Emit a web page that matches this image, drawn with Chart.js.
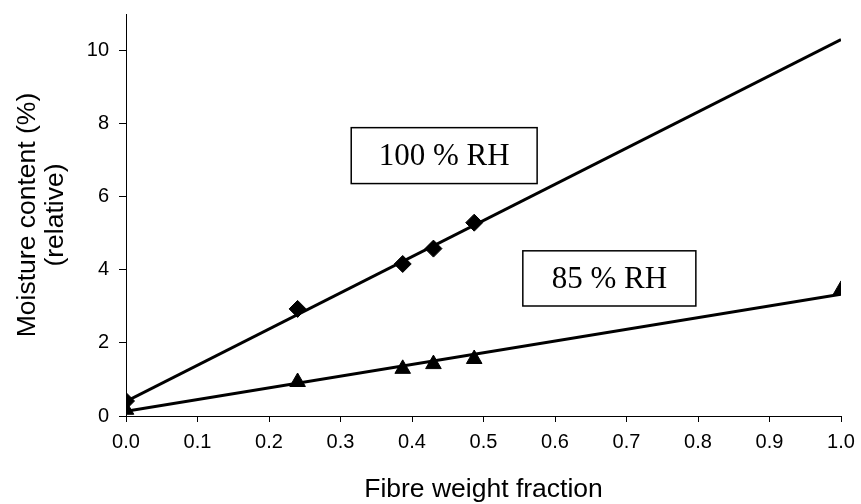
<!DOCTYPE html>
<html>
<head>
<meta charset="utf-8">
<script src="https://cdn.jsdelivr.net/npm/chart.js@4.4.1/dist/chart.umd.min.js"></script>
<style>
  html, body { margin: 0; padding: 0; background: #fff; }
</style>
</head>
<body>
<canvas id="chart" width="861" height="504"></canvas>
<script>
const fibre100 = [0, 0.24, 0.387, 0.43, 0.487];
const rh100 = [0.41, 2.93, 4.16, 4.58, 5.29];
const fibre85 = [0, 0.24, 0.387, 0.43, 0.487, 1.0];
const rh85 = [0.17, 0.93, 1.29, 1.42, 1.56, 3.45];

// straight fit lines, end points
const fitX = [0, 1.0];
const fit100 = [0.4, 10.3];
const fit85 = [0.13, 3.33];

const xTicks = [0, 0.1, 0.2, 0.3, 0.4, 0.5, 0.6, 0.7, 0.8, 0.9, 1.0];
const yTicks = [0, 2, 4, 6, 8, 10];
const boxLabels = ["100 % RH", "85 % RH"];

const toPts = (xs, ys) => xs.map((x, i) => ({ x: x, y: ys[i] }));

// text boxes drawn in data space
const boxPlugin = {
    id: "boxes",
    afterDatasetsDraw(chart) {
        const { ctx, scales } = chart;
        const corners = [
            [0.315, 7.89, 0.575, 6.36],
            [0.555, 4.52, 0.797, 3.01],
        ];
        ctx.save();
        corners.forEach((c, i) => {
            const x1 = scales.x.getPixelForValue(c[0]);
            const y1 = scales.y.getPixelForValue(c[1]);
            const x2 = scales.x.getPixelForValue(c[2]);
            const y2 = scales.y.getPixelForValue(c[3]);
            ctx.fillStyle = "#fff";
            ctx.fillRect(x1, y1, x2 - x1, y2 - y1);
            ctx.strokeStyle = "#000";
            ctx.lineWidth = 1.5;
            ctx.strokeRect(x1, y1, x2 - x1, y2 - y1);
            ctx.fillStyle = "#000";
            ctx.font = '31px "Liberation Serif", "Times New Roman", serif';
            ctx.textAlign = "center";
            ctx.textBaseline = "middle";
            ctx.fillText(boxLabels[i], (x1 + x2) / 2, (y1 + y2) / 2 + 1);
        });
        ctx.restore();
    },
};

const tickFont = { family: '"Liberation Sans", Arial, sans-serif', size: 20 };
const titleFont = { family: '"Liberation Sans", Arial, sans-serif', size: 26.5, lineHeight: 1.08 };

const config = {
    type: "scatter",
    data: {
        datasets: [
            {
                label: "fit 100",
                data: toPts(fitX, fit100),
                showLine: true,
                borderColor: "#000",
                borderWidth: 3,
                pointRadius: 0,
            },
            {
                label: "fit 85",
                data: toPts(fitX, fit85),
                showLine: true,
                borderColor: "#000",
                borderWidth: 3,
                pointRadius: 0,
            },
            {
                label: "100 % RH",
                data: toPts(fibre100, rh100),
                pointStyle: "rectRot",
                pointRadius: 8.5,
                backgroundColor: "#000",
                borderColor: "#000",
                borderWidth: 1,
            },
            {
                label: "85 % RH",
                data: toPts(fibre85, rh85),
                pointStyle: "triangle",
                pointRadius: 9,
                backgroundColor: "#000",
                borderColor: "#000",
                borderWidth: 1,
            },
        ],
    },
    options: {
        responsive: false,
        animation: false,
        devicePixelRatio: 1,
        layout: { padding: { top: 14, right: 20, left: 0, bottom: 0 } },
        plugins: { legend: { display: false }, tooltip: { enabled: false } },
        scales: {
            x: {
                type: "linear",
                min: 0,
                max: 1,
                afterBuildTicks: (s) => { s.ticks = xTicks.map((v) => ({ value: v })); },
                afterFit: (s) => {
                    s.height = 88;
                    s.paddingLeft = 0;
                    s.paddingRight = 0;
                },
                grid: { drawOnChartArea: false, drawTicks: true, tickLength: 6, tickColor: "#000" },
                border: { display: true, color: "#000", width: 1 },
                ticks: {
                    color: "#000",
                    font: tickFont,
                    padding: 8,
                    maxRotation: 0,
                    callback: (v) => Number(v).toFixed(1),
                },
                title: {
                    display: true,
                    text: "Fibre weight fraction",
                    color: "#000",
                    font: titleFont,
                    padding: { top: 0, bottom: 0 },
                },
            },
            y: {
                type: "linear",
                min: 0,
                max: 11,
                afterBuildTicks: (s) => { s.ticks = yTicks.map((v) => ({ value: v })); },
                afterFit: (s) => {
                    s.width = 126;
                    s.paddingTop = 0;
                    s.paddingBottom = 0;
                },
                grid: { drawOnChartArea: false, drawTicks: true, tickLength: 7, tickColor: "#000" },
                border: { display: true, color: "#000", width: 1 },
                ticks: { color: "#000", font: tickFont, padding: 10 },
                title: {
                    display: true,
                    text: ["Moisture content (%)", "(relative)"],
                    color: "#000",
                    font: titleFont,
                    padding: { top: 13, bottom: 0 },
                },
            },
        },
    },
    plugins: [boxPlugin],
};

const chart = new Chart(document.getElementById("chart"), config);
</script>
</body>
</html>
